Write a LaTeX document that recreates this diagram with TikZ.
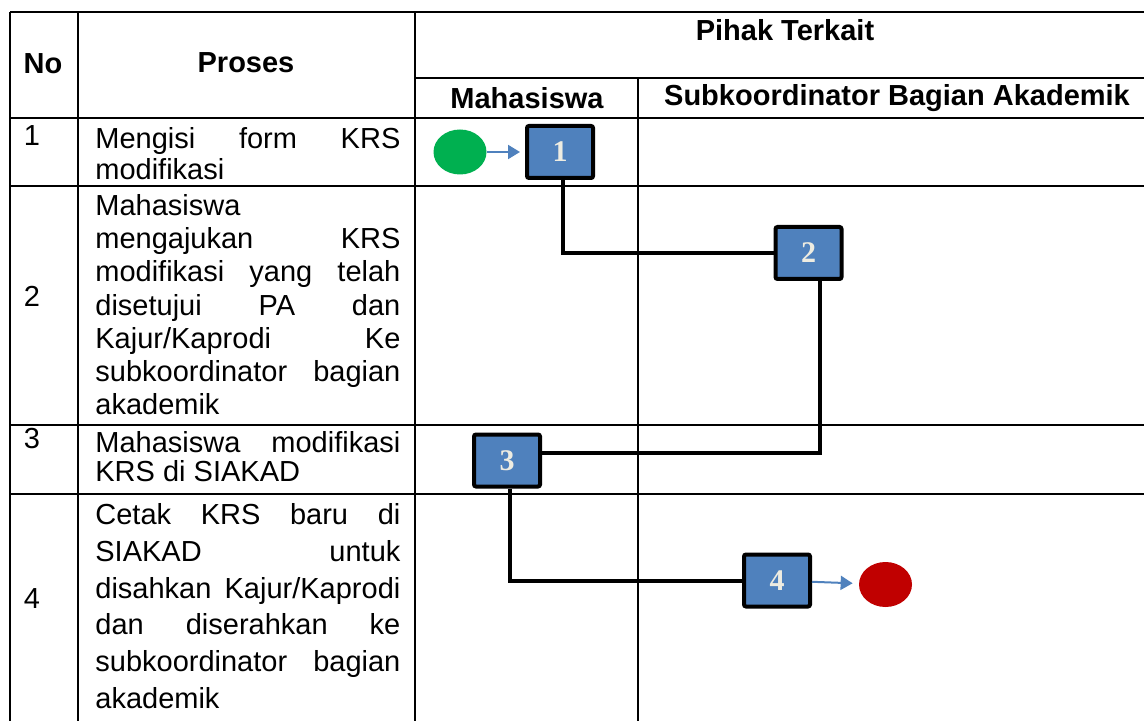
\documentclass[tikz,border=0pt]{standalone}
\usepackage{fontspec}
\setmainfont{Liberation Sans}
\newfontfamily\boxfont{Liberation Serif}
\usetikzlibrary{positioning, calc, arrows.meta, shapes.geometric}

\definecolor{stepblue}{HTML}{4F81BD}
\definecolor{startgreen}{HTML}{00B050}
\definecolor{endred}{HTML}{C00000}
\definecolor{digitcream}{HTML}{EEECE1}

\tikzset{
  gridline/.style={line width=1.3pt},
  stepbox/.style={draw=black, line width=2pt, fill=stepblue, rounded corners=1pt,
    minimum width=33pt, minimum height=26pt, inner sep=0pt, text=digitcream,
    font=\boxfont\bfseries\fontsize{15}{15}\selectfont},
  terminal/.style={ellipse, minimum width=26.5pt, minimum height=22.5pt, inner sep=0pt},
  flow/.style={line width=2pt},
  pointer/.style={stepblue, line width=1pt, -{Triangle[length=6pt,width=7pt]}},
  head/.style={font=\bfseries\fontsize{14.5}{16.5}\selectfont},
  num/.style={font=\fontsize{14.5}{16.5}\selectfont},
  cell/.style={anchor=north west, inner sep=0pt, text width=152.5pt, align=justify},
}

\newcommand{\cellfont}[1]{\fontsize{14.5}{#1}\selectfont\spaceskip=0.278em plus 5em\relax\hyphenpenalty=10000\relax}

\begin{document}
\begin{tikzpicture}[x=0.5pt, y=-0.5pt]
    \useasboundingbox (0,0) rectangle (1144,721);

    % --- Table grid ---
    \draw[gridline] (10,12) -- (1144,12);
    \draw[gridline] (415,78) -- (1144,78);
    \draw[gridline] (10,118) -- (1144,118);
    \draw[gridline] (10,186) -- (1144,186);
    \draw[gridline] (10,425) -- (1144,425);
    \draw[gridline] (10,494) -- (1144,494);
    \draw[gridline] (10,12) -- (10,721);
    \draw[gridline] (78,12) -- (78,721);
    \draw[gridline] (415,12) -- (415,721);
    \draw[gridline] (638,78) -- (638,721);

    % --- Header ---
    \node[head] (hNo) at (43,64) {No};
    \node[head] (hProses) at (246,63) {Proses};
    \node[head] (hPihak) at (785,30) {Pihak Terkait};
    \node[head] (hMhs) at (527,98) {Mahasiswa};
    \node[head] (hSub) at (897,98) {Subkoordinator Bagian Akademik};

    % --- Row numbers ---
    \node[num] (no1) at (32,136) {1};
    \node[num] (no2) at (32,296) {2};
    \node[num] (no3) at (32,439) {3};
    \node[num] (no4) at (32,599) {4};

    % --- Process texts ---
    \node[cell, font=\cellfont{15.5}] (p1) at (95,127)
      {Mengisi form KRS\linebreak modifikasi};
    \node[cell, font=\cellfont{16.6}] (p2) at (95,194)
      {Mahasiswa\linebreak mengajukan KRS\linebreak modifikasi yang telah\linebreak
       disetujui PA dan\linebreak Kajur/Kaprodi Ke\linebreak subkoordinator bagian\linebreak akademik};
    \node[cell, font=\cellfont{14.6}] (p3) at (95,431)
      {Mahasiswa modifikasi\linebreak KRS di SIAKAD};
    \node[cell, font=\cellfont{18.4}] (p4) at (95,503)
      {Cetak KRS baru di\linebreak SIAKAD untuk\linebreak disahkan Kajur/Kaprodi\linebreak
       dan diserahkan ke\linebreak subkoordinator bagian\linebreak akademik};

    % --- Flow ---
    \node[terminal, fill=startgreen] (start) at (460,152) {};
    \node[stepbox] (s1) at (560,152) {1};
    \node[stepbox] (s2) at (808.5,253) {2};
    \node[stepbox] (s3) at (507,460.5) {3};
    \node[stepbox] (s4) at (777,580.5) {4};
    \node[terminal, fill=endred] (finish) at (885.5,584.5) {};

    \draw[pointer, shorten >=2.5pt] (start) -- (s1);
    \draw[flow] ([xshift=1.5pt]s1.south) |- (s2.west);
    \draw[flow] ([xshift=5.75pt]s2.south) |- ([yshift=4pt]s3.east);
    \draw[flow] ([xshift=1.5pt]s3.south) |- (s4.west);
    \draw[pointer, shorten >=3pt] (s4) -- (finish);

\end{tikzpicture}
\end{document}
